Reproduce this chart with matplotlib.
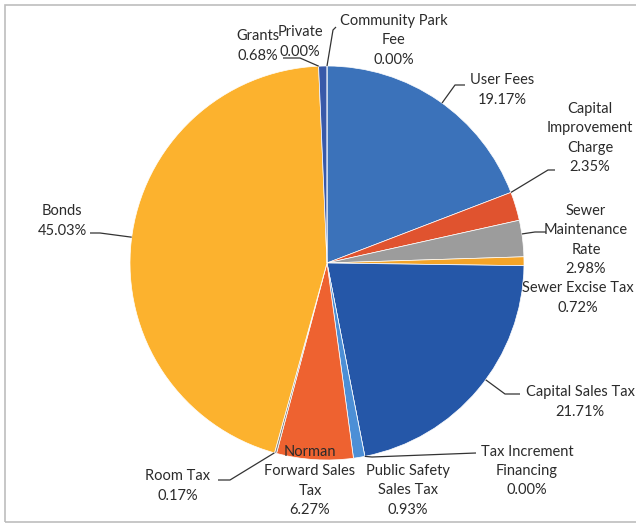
import numpy as np
import matplotlib
matplotlib.use('Agg')
import matplotlib.pyplot as plt
from matplotlib.patches import Rectangle

# DATOS (orden de las porciones, sentido horario desde las 12)
categorias = ['Community Park\nFee', 'User Fees', 'Capital\nImprovement\nCharge',
              'Sewer\nMaintenance\nRate', 'Sewer Excise Tax', 'Capital Sales Tax',
              'Tax Increment\nFinancing', 'Public Safety\nSales Tax',
              'Norman\nForward Sales\nTax', 'Room Tax', 'Bonds', 'Grants', 'Private']
porcentajes = [0.00, 19.17, 2.35, 2.98, 0.72, 21.71, 0.00, 0.93, 6.27, 0.17, 45.03, 0.68, 0.00]
etiquetas_pct = ['0.00%', '19.17%', '2.35%', '2.98%', '0.72%', '21.71%', '0.00%',
                 '0.93%', '6.27%', '0.17%', '45.03%', '0.68%', '0.00%']

colores = ['#3F6FB8', '#3B72BA', '#E0532F', '#9C9C9C', '#F4A428', '#2557A8',
           '#5FA047', '#4C8FD6', '#EE6230', '#8A8A8A', '#FCB22E', '#3859A9', '#6D6D6D']

# posiciones de etiquetas en pixeles (centro del texto)
pos_px = [(394, 40), (502, 90), (590, 138), (586, 240), (578, 298), (580, 402),
          (527, 471), (408, 490), (310, 481), (178, 486), (62, 221), (258, 46), (300, 42)]
# lineas guia: (codo, final) en pixeles, o None
guias = [((333, 30), (336, 27)), ((455, 85), (465, 85)), ((548, 170), (555, 170)),
         ((535, 232), (546, 232)), None, ((505, 394), (520, 394)),
         ((372, 457), (476, 453)), None, None, ((230, 480), (218, 480)),
         ((100, 233), (90, 233)), ((300, 58), (283, 58)), None]

# GEOMETRIA (pixeles)
W, H = 636, 524
cx, cy, R = 327, 263, 197

def a_datos(p):
    return ((p[0] - cx) / R, (cy - p[1]) / R)

fig = plt.figure(figsize=(W / 100, H / 100), dpi=100)
ax = fig.add_axes([0, 0, 1, 1])

fig.patches.append(Rectangle((5 / W, 2 / H), 1.2, (H - 7) / H, transform=fig.transFigure,
                             fill=False, edgecolor='#bdbdbd', linewidth=1.2))

ax.pie(porcentajes, colors=colores, startangle=90, counterclock=False, radius=1,
       center=(0, 0), frame=True,
       wedgeprops=dict(edgecolor='white', linewidth=0.5))
ax.set_xlim(-cx / R, (W - cx) / R)
ax.set_ylim((cy - H) / R, cy / R)
ax.set_aspect('auto')
ax.axis('off')

fuente = dict(family=['Lato', 'DejaVu Sans'], size=10.5, color='#2b2b2b')

acum = np.cumsum([0] + porcentajes)
for i, cat in enumerate(categorias):
    x, y = a_datos(pos_px[i])
    ax.text(x, y, cat + '\n' + etiquetas_pct[i], ha='center', va='center',
            multialignment='center', linespacing=1.5, **fuente)
    if guias[i] is None:
        continue
    codo = a_datos(guias[i][0])
    fin = a_datos(guias[i][1])
    # punto del borde de la porcion mas cercano al codo
    a1 = 90 - 360 * acum[i] / 100
    a2 = 90 - 360 * acum[i + 1] / 100
    ang = np.degrees(np.arctan2(codo[1], codo[0]))
    while ang > a1:
        ang -= 360
    while ang < a2 - 180:
        ang += 360
    ang = min(max(ang, a2), a1)
    bx, by = np.cos(np.radians(ang)), np.sin(np.radians(ang))
    ax.plot([bx, codo[0], fin[0]], [by, codo[1], fin[1]], color='#333333',
            linewidth=0.9, solid_capstyle='butt')

fig.savefig('out.png', dpi=100)
